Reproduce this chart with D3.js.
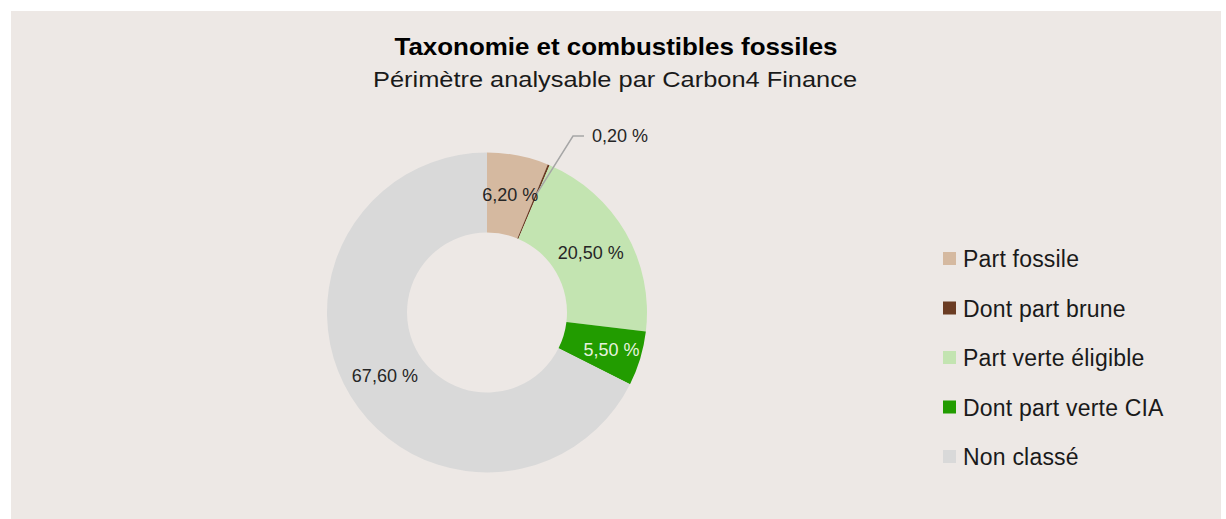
<!DOCTYPE html>
<html>
<head>
<meta charset="utf-8">
<script src="https://cdn.jsdelivr.net/npm/d3@7"></script>
<style>
  html, body { margin: 0; padding: 0; background: #ffffff; }
  svg { display: block; }
  text { font-family: "Liberation Sans", Arial, Helvetica, sans-serif; }
</style>
</head>
<body>
<svg id="chart" width="1226" height="519"></svg>
<script>
// ---- data ----
const categories = ["Part fossile", "Dont part brune", "Part verte éligible", "Dont part verte CIA", "Non classé"];
const values = [6.20, 0.20, 20.50, 5.50, 67.60];
const labels = ["6,20 %", "0,20 %", "20,50 %", "5,50 %", "67,60 %"];
const colors = ["#d5b9a0", "#6b3c23", "#c3e4b1", "#229c00", "#d9d9d9"];
const labelColors = ["#262626", "#262626", "#262626", "#e6f2de", "#262626"];
const titleText = "Taxonomie et combustibles fossiles";
const subtitleText = "Périmètre analysable par Carbon4 Finance";

const svg = d3.select("#chart");

// background panel
svg.append("rect").attr("x", 11).attr("y", 11).attr("width", 1210).attr("height", 508).attr("fill", "#ede8e5");

// titles
svg.append("text").attr("x", 616).attr("y", 55).attr("text-anchor", "middle")
  .attr("font-size", 24.5).attr("font-weight", "bold").attr("fill", "#000")
  .attr("textLength", 443).attr("lengthAdjust", "spacingAndGlyphs")
  .text(titleText);
svg.append("text").attr("x", 615).attr("y", 87).attr("text-anchor", "middle")
  .attr("font-size", 22).attr("fill", "#1a1a1a")
  .attr("textLength", 484).attr("lengthAdjust", "spacingAndGlyphs")
  .text(subtitleText);

// donut
const cx = 487, cy = 312.5, rOuter = 160, rInner = 80;
const data = categories.map((c, i) => ({ cat: c, value: values[i], label: labels[i], color: colors[i], lc: labelColors[i] }));
const pie = d3.pie().value(d => d.value).sort(null).startAngle(0).endAngle(2 * Math.PI);
const arcs = pie(data);
const arc = d3.arc().innerRadius(rInner).outerRadius(rOuter);
const g = svg.append("g").attr("transform", `translate(${cx},${cy})`);

g.selectAll("path.slice").data(arcs).enter().append("path")
  .attr("class", "slice")
  .attr("d", arc)
  .attr("fill", d => d.data.color);

// leader line for the tiny slice (index 1)
const small = arcs[1];
const midA = (small.startAngle + small.endAngle) / 2;
const rStart = 128;
const p0 = [rStart * Math.sin(midA), -rStart * Math.cos(midA)];
const elbow = [573 - cx, 136 - cy];
const p2 = [584 - cx, 136 - cy];
g.append("polyline")
  .attr("points", [p0, elbow, p2].map(p => p.join(",")).join(" "))
  .attr("fill", "none").attr("stroke", "#a6a6a6").attr("stroke-width", 1.5);

// labels
const labelArc = d3.arc().innerRadius(120).outerRadius(120);
const labelArcOuter = d3.arc().innerRadius(130).outerRadius(130);
arcs.forEach((a, i) => {
  let pos;
  if (i === 1) {
    pos = [p2[0] + 36, p2[1]];
  } else if (i === 3) {
    pos = labelArcOuter.centroid(a);
  } else {
    pos = labelArc.centroid(a);
  }
  g.append("text")
    .attr("x", pos[0]).attr("y", pos[1])
    .attr("dy", "0.36em")
    .attr("text-anchor", "middle")
    .attr("font-size", 18)
    .attr("fill", a.data.lc)
    .text(a.data.label);
});

// legend
const legendY = d3.scalePoint().domain(categories).range([259, 457]);
const lg = svg.append("g");
categories.forEach((c, i) => {
  const y = legendY(c);
  lg.append("rect").attr("x", 943).attr("y", y - 7).attr("width", 13).attr("height", 13).attr("fill", colors[i]);
  lg.append("text").attr("x", 963).attr("y", y).attr("dy", "0.36em")
    .attr("font-size", 23).attr("letter-spacing", 0.2).attr("fill", "#1a1a1a").text(c);
});
</script>
</body>
</html>
